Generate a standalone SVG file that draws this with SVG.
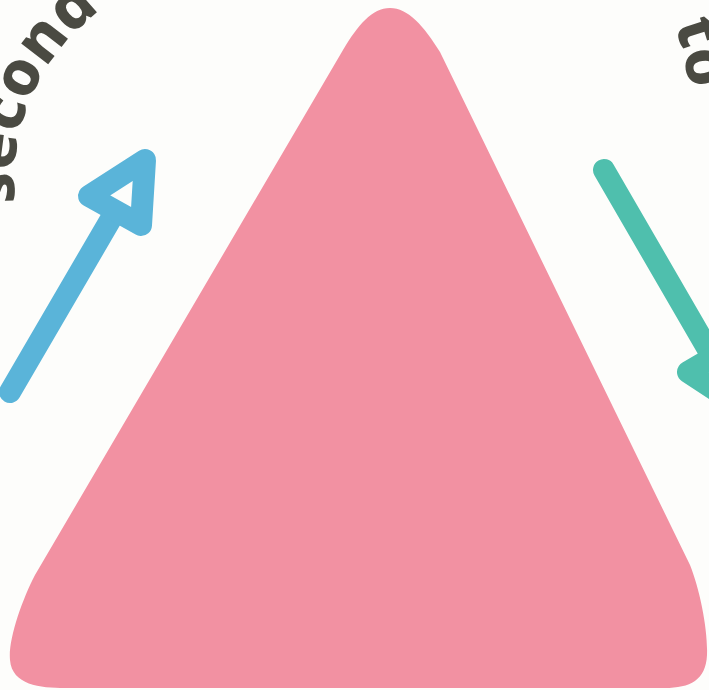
<svg xmlns="http://www.w3.org/2000/svg" width="709" height="690" viewBox="0 0 709 690">
  <defs>
    <style>
      .lbl { font-family: "Noto Sans", "DejaVu Sans", sans-serif; font-weight: 800; font-size: 62px; fill: #4a4a42; }
      .blue { stroke: #5ab4d9; stroke-width: 22; stroke-linecap: round; stroke-linejoin: round; fill: none; }
      .teal { stroke: #4fbfad; stroke-width: 22; stroke-linecap: round; stroke-linejoin: round; fill: none; }
    </style>
    <path id="arcL" d="M 26.7 251.8 A 210 210 0 0 1 295.8 -17.3"/>
    <path id="arcR" d="M 577 -89 A 224 224 0 0 1 636.6 249"/>
  </defs>
  <rect width="709" height="690" fill="#fdfdfb"/>

  <g id="triangle">
    <path d="M 390 8 C 408 8 424 26 440 52 L 690 565 C 700 590 708 630 707 655 C 706 680 690 688 665 688 L 65 688 C 40 688 12 685 10 660 C 8 640 22 600 35 575 L 343 50 C 358 25 372 8 390 8 Z" fill="#f291a2"/>
  </g>

  <g id="label-left">
    <text class="lbl"><textPath href="#arcL" startOffset="50">second</textPath></text>
  </g>
  <g id="label-right">
    <text class="lbl"><textPath href="#arcR" startOffset="152">to</textPath></text>
  </g>

  <g id="connectors">
    <g id="arrow-blue">
      <line class="blue" x1="10" y1="392" x2="115" y2="212"/>
      <polygon class="blue" points="89,196 145,160 141,225"/>
    </g>
    <g id="arrow-teal">
      <line class="teal" x1="604" y1="170" x2="713" y2="358"/>
      <polygon class="teal" points="688,372 738,343 741,407"/>
    </g>
  </g>
</svg>
